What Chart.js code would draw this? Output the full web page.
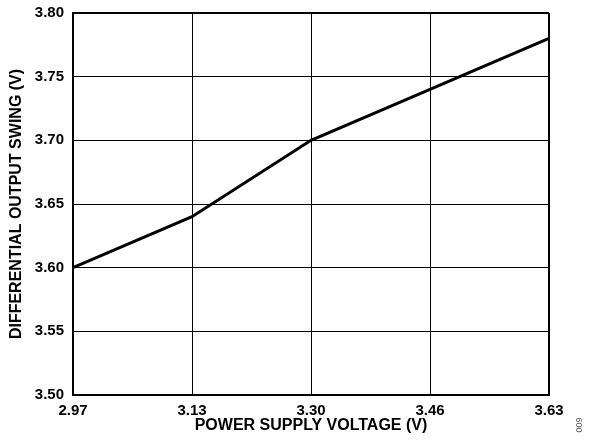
<!DOCTYPE html>
<html>
<head>
<meta charset="utf-8">
<script src="https://cdn.jsdelivr.net/npm/chart.js@4/dist/chart.umd.min.js"></script>
<style>
html,body{margin:0;padding:0;background:#fff;}
#wrap{width:592px;height:448px;position:relative;}
</style>
</head>
<body>
<div id="wrap"><canvas id="c" width="592" height="448"></canvas></div>
<script>
const xLabels = ['2.97', '3.13', '3.30', '3.46', '3.63'];
const swing = [3.60, 3.64, 3.70, 3.74, 3.78];
const yTicks = [3.50, 3.55, 3.60, 3.65, 3.70, 3.75, 3.80];

const FONT = 'Liberation Sans, Arial, sans-serif';

const notePlugin = {
  id: 'note',
  afterDraw(chart) {
    const ctx = chart.ctx;
    ctx.save();
    ctx.translate(578, 425);
    ctx.rotate(Math.PI / 2);
    ctx.font = '9px ' + FONT;
    ctx.fillStyle = '#555';
    ctx.textAlign = 'center';
    ctx.textBaseline = 'middle';
    ctx.fillText('600', 0, 0);
    ctx.restore();
  }
};

new Chart(document.getElementById('c'), {
  type: 'line',
  data: {
    labels: xLabels,
    datasets: [{
      data: swing,
      borderColor: '#000',
      borderWidth: 3,
      pointRadius: 0,
      tension: 0,
      fill: false
    }]
  },
  options: {
    responsive: false,
    animation: false,
    layout: { padding: { top: 13, right: 43, left: 0, bottom: 0 } },
    plugins: { legend: { display: false }, tooltip: { enabled: false } },
    scales: {
      x: {
        type: 'category',
        offset: false,
        grid: {
          color: '#000',
          lineWidth: (c) => (c.index === xLabels.length - 1 ? 2 : 1),
          drawTicks: false
        },
        border: { color: '#000', width: 2 },
        ticks: {
          color: '#000',
          padding: 7,
          maxRotation: 0,
          font: { family: FONT, size: 15, weight: 'bold' }
        },
        title: {
          display: true,
          text: 'POWER SUPPLY VOLTAGE (V)',
          color: '#000',
          padding: { top: 0, bottom: 13 },
          font: { family: FONT, size: 16, weight: 'bold' }
        },
        afterFit(scale) {
          scale.height = 53;
          scale.paddingLeft = 0;
          scale.paddingRight = 0;
        }
      },
      y: {
        type: 'linear',
        min: 3.50,
        max: 3.80,
        afterBuildTicks(scale) { scale.ticks = yTicks.map(v => ({ value: v })); },
        grid: {
          color: '#000',
          lineWidth: (c) => (c.index === yTicks.length - 1 ? 2 : 1),
          drawTicks: false
        },
        border: { color: '#000', width: 2 },
        ticks: {
          color: '#000',
          padding: 9,
          font: { family: FONT, size: 15, weight: 'bold' },
          callback: (v) => Number(v).toFixed(2)
        },
        title: {
          display: true,
          text: 'DIFFERENTIAL OUTPUT SWING (V)',
          color: '#000',
          padding: { top: 7, bottom: 0 },
          font: { family: FONT, size: 16, weight: 'bold' }
        },
        afterFit(scale) {
          scale.width = 73;
          scale.paddingTop = 0;
          scale.paddingBottom = 0;
        }
      }
    }
  },
  plugins: [notePlugin]
});
</script>
</body>
</html>
